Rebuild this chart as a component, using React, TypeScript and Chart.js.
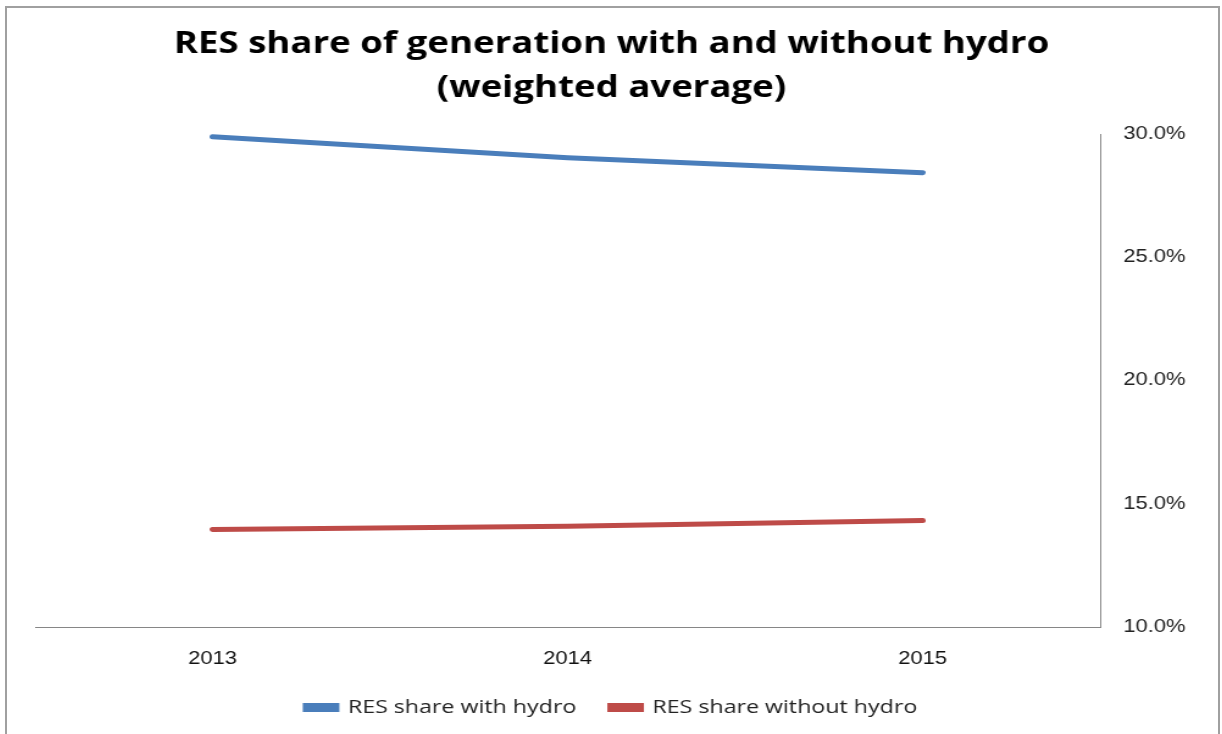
import React, { useEffect, useRef } from "react";
import { Chart, registerables } from "chart.js";

Chart.register(...registerables);

const categories = ["2013", "2014", "2015"];
const withHydro = [29.89, 29.04, 28.43];
const withoutHydro = [13.96, 14.09, 14.32];
const yTicks = [10, 15, 20, 25, 30];
const titleLines = ["RES share of generation with and without hydro", "(weighted average)"];
const seriesNames = ["RES share with hydro", "RES share without hydro"];

const STRETCH = 1.22;
const CW = Math.round(1211 / STRETCH);
const CH = 726;

export default function App() {
  const ref = useRef<HTMLCanvasElement | null>(null);
  useEffect(() => {
    if (!ref.current) return;
    const chart = new Chart(ref.current, {
      type: "line",
      data: {
        labels: categories,
        datasets: [
          {
            label: seriesNames[0],
            data: withHydro,
            borderColor: "#4A7EBB",
            backgroundColor: "#4A7EBB",
            borderWidth: 5,
            pointRadius: 0,
            borderCapStyle: "round",
            tension: 0,
          },
          {
            label: seriesNames[1],
            data: withoutHydro,
            borderColor: "#BE4B48",
            backgroundColor: "#BE4B48",
            borderWidth: 5,
            pointRadius: 0,
            borderCapStyle: "round",
            tension: 0,
          },
        ],
      },
      options: {
        responsive: false,
        animation: false,
        layout: { padding: { left: 23, right: 25, top: 0, bottom: 7 } },
        plugins: {
          title: {
            display: true,
            text: titleLines,
            color: "#000",
            font: { family: "'Open Sans'", weight: "bold", size: 30, lineHeight: 1.45 },
            padding: { top: 15, bottom: 24 },
          },
          legend: {
            position: "bottom",
            labels: {
              boxWidth: 25,
              boxHeight: 4,
              color: "#222",
              font: { family: "'Open Sans'", size: 19 },
              padding: 28,
            },
          },
          tooltip: { enabled: false },
        },
        scales: {
          x: {
            offset: true,
            grid: { display: false, drawTicks: false },
            border: { display: true, color: "#868686", width: 1 },
            ticks: { color: "#111", font: { family: "'Liberation Sans'", size: 18 }, padding: 21 },
            afterFit: (s: any) => {
              s.height = 43;
            },
          },
          y: {
            position: "right",
            min: 10,
            max: 30,
            afterBuildTicks: (axis: any) => {
              axis.ticks = yTicks.map((v) => ({ value: v }));
            },
            afterFit: (s: any) => {
              s.width = 72;
            },
            grid: { display: false, drawTicks: false },
            border: { display: true, color: "#868686", width: 1 },
            ticks: {
              color: "#222",
              font: { family: "'Liberation Sans'", size: 18 },
              padding: 19,
              callback: (v: any) => Number(v).toFixed(1) + "%",
            },
          },
        },
      },
    });
    return () => chart.destroy();
  }, []);
  return (
    <div
      style={{
        position: "absolute",
        left: 5,
        top: 6,
        width: 1211,
        height: 740,
        border: "2px solid #a0a0a0",
        background: "#fff",
        overflow: "hidden",
      }}
    >
      <div style={{ width: CW, height: CH, transform: `scaleX(${STRETCH})`, transformOrigin: "0 0" }}>
        <canvas ref={ref} width={CW} height={CH} style={{ display: "block" }} />
      </div>
    </div>
  );
}
